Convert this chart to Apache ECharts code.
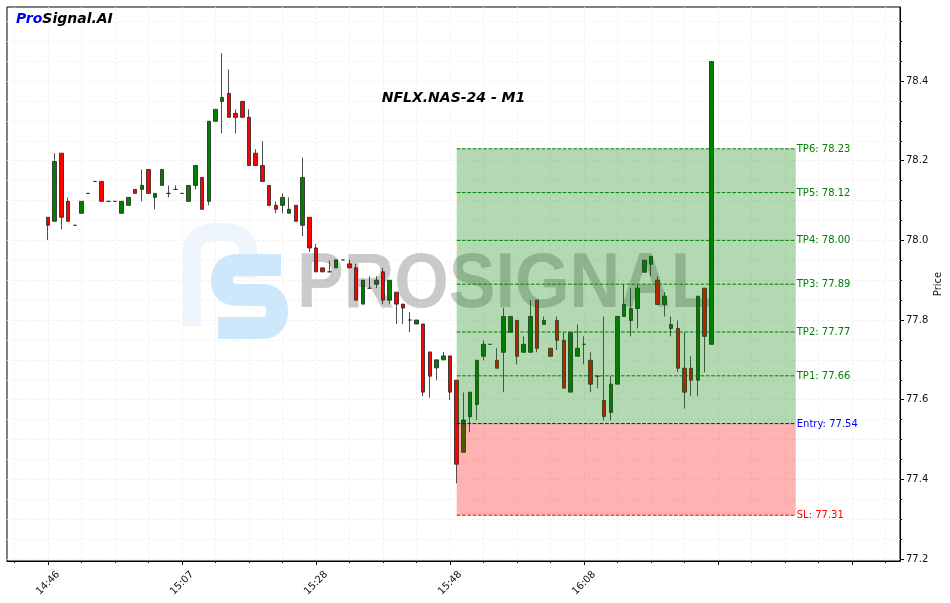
<!DOCTYPE html>
<html><head><meta charset="utf-8">
<script src="https://cdn.jsdelivr.net/npm/echarts@6/dist/echarts.min.js"></script>
<style>html,body{margin:0;padding:0;background:#fff}#c{width:950px;height:603px}</style>
</head><body><div id="c"></div>
<script>
// ---- data ----
const opens=[78.058,78.048,78.219,78.098,78.038,78.068,78.118,78.148,78.148,78.098,
78.098,78.068,78.088,78.128,78.128,78.178,78.108,78.138,78.118,78.128,
78.118,78.098,78.138,78.158,78.098,78.299,78.349,78.369,78.319,78.349,
78.309,78.219,78.188,78.138,78.088,78.088,78.068,78.088,78.038,78.058,
77.981,77.931,77.921,77.931,77.951,77.941,77.931,77.840,77.880,77.890,
77.921,77.850,77.870,77.840,77.800,77.790,77.790,77.720,77.680,77.700,
77.710,77.649,77.468,77.557,77.588,77.709,77.739,77.699,77.719,77.769,
77.799,77.719,77.719,77.850,77.789,77.729,77.799,77.749,77.619,77.709,
77.739,77.699,77.659,77.598,77.568,77.639,77.809,77.799,77.829,77.920,
77.940,77.900,77.839,77.779,77.779,77.679,77.679,77.649,77.880,77.739];
const highs=[78.058,78.219,78.219,78.108,78.038,78.098,78.118,78.148,78.148,78.098,
78.098,78.098,78.108,78.128,78.178,78.178,78.118,78.178,78.138,78.138,
78.118,78.138,78.188,78.158,78.299,78.329,78.470,78.429,78.329,78.349,
78.329,78.229,78.249,78.138,78.098,78.118,78.108,78.088,78.208,78.058,
77.991,77.931,77.949,77.951,77.951,77.951,77.941,77.900,77.910,77.910,
77.931,77.900,77.870,77.840,77.820,77.800,77.790,77.720,77.700,77.720,
77.710,77.649,77.618,77.619,77.699,77.749,77.739,77.729,77.831,77.809,
77.799,77.759,77.850,77.850,77.809,77.729,77.809,77.769,77.769,77.789,
77.759,77.719,77.659,77.809,77.659,77.809,77.890,77.880,77.890,77.950,
77.960,77.910,77.870,77.809,77.799,77.769,77.709,77.860,77.880,78.449];
const lows=[78.001,78.048,78.028,78.048,78.038,78.068,78.118,78.148,78.098,78.098,
78.098,78.068,78.088,78.118,78.098,78.118,78.078,78.138,78.108,78.128,
78.118,78.098,78.128,78.078,78.088,78.299,78.269,78.309,78.269,78.309,
78.188,78.188,78.148,78.088,78.068,78.068,78.068,78.048,78.011,77.971,
77.921,77.921,77.921,77.931,77.951,77.931,77.850,77.840,77.880,77.880,
77.840,77.840,77.790,77.790,77.770,77.790,77.609,77.605,77.649,77.700,
77.599,77.390,77.468,77.518,77.549,77.699,77.739,77.679,77.619,77.769,
77.689,77.719,77.719,77.719,77.789,77.709,77.725,77.629,77.619,77.709,
77.689,77.619,77.629,77.548,77.548,77.639,77.809,77.759,77.779,77.920,
77.910,77.839,77.809,77.759,77.669,77.578,77.609,77.609,77.669,77.739];
const closes=[78.038,78.198,78.058,78.048,78.038,78.098,78.118,78.148,78.098,78.098,
78.098,78.098,78.108,78.118,78.138,78.118,78.118,78.178,78.118,78.128,
78.118,78.138,78.188,78.078,78.299,78.329,78.359,78.309,78.309,78.309,
78.188,78.188,78.148,78.088,78.078,78.108,78.078,78.048,78.158,77.981,
77.921,77.921,77.921,77.951,77.951,77.931,77.850,77.900,77.880,77.900,
77.850,77.900,77.840,77.830,77.800,77.800,77.619,77.659,77.700,77.710,
77.619,77.438,77.549,77.619,77.699,77.739,77.739,77.679,77.809,77.809,
77.709,77.739,77.809,77.729,77.799,77.709,77.749,77.629,77.769,77.729,
77.739,77.639,77.659,77.558,77.639,77.809,77.839,77.829,77.880,77.950,
77.960,77.839,77.860,77.789,77.679,77.619,77.649,77.860,77.759,78.449];

const majorXTicks=[0,20,40,60,80,100,120];
const labelXTicks=[0,20,40,60,80];
const timeLabels=['14:46','15:07','15:28','15:48','16:08'];
const minorXTicks=[-5,0,5,10,15,20,25,30,35,40,45,50,55,60,65,70,75,80,85,90,95,100,105,110,115,120,125];
const priceTicks=[77.2,77.4,77.6,77.8,78.0,78.2,78.4];
const minorYTicks=[77.20,77.25,77.30,77.35,77.40,77.45,77.50,77.55,77.60,77.65,77.70,77.75,77.80,77.85,77.90,77.95,78.00,78.05,78.10,78.15,78.20,78.25,78.30,78.35,78.40,78.45,78.50,78.55];
const levelNames=['SL','Entry','TP1','TP2','TP3','TP4','TP5','TP6'];
const levelValues=[77.31,77.54,77.66,77.77,77.89,78.00,78.12,78.23];
const zoneStart=61, zoneEnd=111.6;
const xMin=-6.12, xMax=127.16, yMin=77.195, yMax=78.586;

// ---- build ----
const candleData=opens.map((o,i)=>[i,o,closes[i],lows[i],highs[i]]);
const slV=levelValues[0], entryV=levelValues[1], tpTop=levelValues[levelValues.length-1];
const zoneData=[[zoneStart,zoneEnd,entryV,tpTop],[zoneStart,zoneEnd,slV,entryV]];
const levelData=levelValues.map((v,i)=>[zoneStart,zoneEnd,v,i]);
const FONT='"DejaVu Sans", sans-serif';
const gridLine={show:true,lineStyle:{color:'#efefef',type:[3,2],width:0.8}};

// watermark logo pieces (decoration)
const sStyle={stroke:'#cde8fb',lineWidth:22,fill:null};
const pStyle={stroke:'#eef5fc',lineWidth:18,fill:null};
const logo=[
  {type:'line',z:1,shape:{x1:192,y1:326,x2:192,y2:250},style:pStyle},
  {type:'bezierCurve',z:1,shape:{x1:192,y1:250,cpx1:192,cpy1:232,x2:220,y2:232},style:pStyle},
  {type:'bezierCurve',z:1,shape:{x1:220,y1:232,cpx1:248,cpy1:232,x2:248,y2:250},style:pStyle},
  {type:'line',z:1,shape:{x1:248,y1:250,x2:248,y2:278},style:pStyle},
  {type:'line',z:1,shape:{x1:281,y1:265,x2:238,y2:265},style:sStyle},
  {type:'bezierCurve',z:1,shape:{x1:238,y1:265,cpx1:222,cpy1:265,x2:222,y2:281},style:sStyle},
  {type:'bezierCurve',z:1,shape:{x1:222,y1:281,cpx1:222,cpy1:295,x2:238,y2:295},style:sStyle},
  {type:'line',z:1,shape:{x1:238,y1:295,x2:262,y2:295},style:sStyle},
  {type:'bezierCurve',z:1,shape:{x1:262,y1:295,cpx1:277,cpy1:295,x2:277,y2:311},style:sStyle},
  {type:'bezierCurve',z:1,shape:{x1:277,y1:311,cpx1:277,cpy1:328,x2:262,y2:328},style:sStyle},
  {type:'line',z:1,shape:{x1:262,y1:328,x2:218,y2:328},style:sStyle}
];

const chart=echarts.init(document.getElementById('c'),null,{renderer:'canvas'});
chart.setOption({
  animation:false,
  backgroundColor:'#fff',
  title:{text:'NFLX.NAS-24 - M1',left:448.5,top:86,textAlign:'center',
    textStyle:{fontFamily:FONT,fontSize:14,fontWeight:'bold',fontStyle:'italic',color:'#000'}},
  grid:{left:7,right:50,top:7,bottom:42,show:true,borderColor:'#000',borderWidth:1,
    containLabel:false,outerBoundsMode:'none'},
  xAxis:[
    {type:'value',min:xMin,max:xMax,position:'bottom',
      axisLine:{show:true,onZero:false,lineStyle:{color:'#000',width:1}},
      axisTick:{show:true,customValues:majorXTicks,length:4,lineStyle:{color:'#000'}},
      axisLabel:{show:true,customValues:labelXTicks,formatter:v=>timeLabels[labelXTicks.indexOf(v)]||'',
        rotate:45,align:'center',verticalAlign:'middle',margin:22,fontSize:10,color:'#111',fontFamily:FONT},
      splitLine:{show:false}},
    {type:'value',min:xMin,max:xMax,position:'bottom',
      axisLine:{show:false,onZero:false},
      axisTick:{show:true,customValues:minorXTicks,length:2,lineStyle:{color:'#000'}},
      axisLabel:{show:false},splitLine:gridLine}
  ],
  yAxis:[
    {type:'value',min:yMin,max:yMax,position:'right',
      axisLine:{show:true,onZero:false,lineStyle:{color:'#000',width:1}},
      axisTick:{show:true,customValues:priceTicks,length:4,lineStyle:{color:'#000'}},
      axisLabel:{show:true,customValues:priceTicks,formatter:v=>v.toFixed(1),margin:6,fontSize:10,color:'#111',fontFamily:FONT},
      splitLine:{show:false},
      name:'Price',nameLocation:'middle',nameGap:33,nameRotate:90,nameMoveOverlap:false,
      nameTextStyle:{fontSize:10,color:'#111',fontFamily:FONT}},
    {type:'value',min:yMin,max:yMax,position:'right',
      axisLine:{show:false,onZero:false},
      axisTick:{show:true,customValues:minorYTicks,length:2,lineStyle:{color:'#000'}},
      axisLabel:{show:false},splitLine:gridLine}
  ],
  graphic:logo.concat([
    {type:'text',z:1,x:297,y:286,scaleX:0.91,
      style:{text:'PROSIGNAL',font:'bold 77px "Liberation Sans", sans-serif',fill:'rgba(128,128,128,0.42)',verticalAlign:'middle',align:'left'}},
    {type:'text',z:10,x:16,y:19,
      style:{text:'{a|Pro}{b|Signal.AI}',verticalAlign:'middle',
        font:'italic bold 14px "DejaVu Sans"',
        rich:{a:{fill:'#0000ff',font:'italic bold 14px "DejaVu Sans"'},b:{fill:'#000',font:'italic bold 14px "DejaVu Sans"'}}}}
  ]),
  series:[
    {type:'candlestick',xAxisIndex:0,yAxisIndex:0,z:2,data:candleData,
      encode:{x:0,y:[1,2,3,4]},barWidth:4,
      itemStyle:{color:'#008000',color0:'#ff0000',borderColor:'#222',borderColor0:'#222',borderWidth:0.8}},
    {type:'custom',xAxisIndex:0,yAxisIndex:0,z:3,data:zoneData,encode:{x:[0,1],y:[2,3]},
      renderItem:(params,api)=>{
        const p0=api.coord([api.value(0),api.value(3)]);
        const p1=api.coord([api.value(1),api.value(2)]);
        return {type:'rect',shape:{x:p0[0],y:p0[1],width:p1[0]-p0[0],height:p1[1]-p0[1]},
          style:{fill:params.dataIndex===0?'rgba(0,128,0,0.3)':'rgba(255,0,0,0.3)'}};
      }},
    {type:'custom',xAxisIndex:0,yAxisIndex:0,z:4,data:levelData,encode:{x:[0,1],y:2},
      renderItem:(params,api)=>{
        const i=api.value(3), name=levelNames[i], v=levelValues[i];
        const col=name==='SL'?'#ff0000':(name==='Entry'?'#0000ff':'#008000');
        const a=api.coord([api.value(0),v]), b=api.coord([api.value(1),v]);
        return {type:'group',children:[
          {type:'line',shape:{x1:a[0],y1:a[1],x2:b[0],y2:b[1]},style:{stroke:col,lineWidth:1,lineDash:[3.7,1.6]}},
          {type:'text',x:b[0]+1,y:b[1]+0.5,style:{text:name+': '+v.toFixed(2),fill:col,font:'10px "DejaVu Sans"',align:'left',verticalAlign:'middle'}}
        ]};
      }}
  ]
});
</script></body></html>
